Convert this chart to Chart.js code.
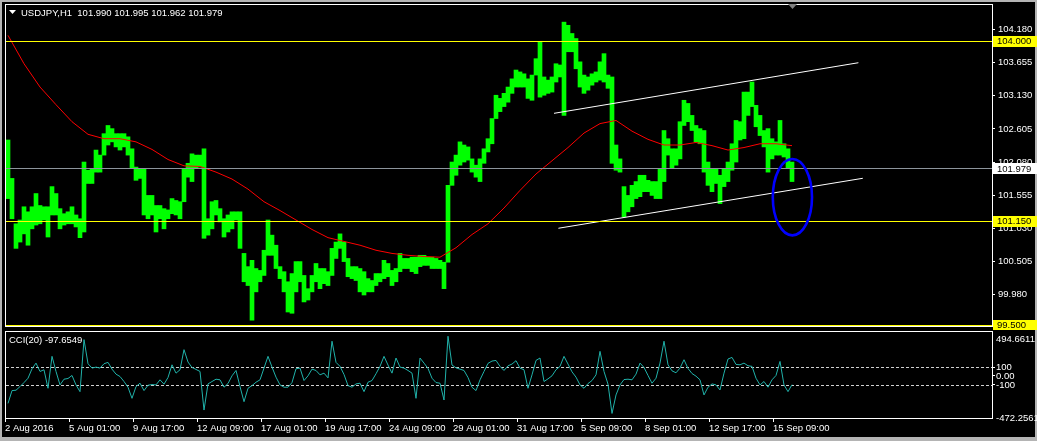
<!DOCTYPE html>
<html>
<head>
<meta charset="utf-8">
<title>USDJPY,H1</title>
<script src="https://cdn.jsdelivr.net/npm/chart.js@4"></script>
<style>
  html, body { margin: 0; padding: 0; }
  body { width: 1037px; height: 441px; background: #b4b4b4; position: relative; overflow: hidden; }
  #frame { position: absolute; left: 2px; top: 2px; width: 1033px; height: 435px; background: #000; }
  canvas { position: absolute; left: 0; }
  #main { top: 0; }
  #cci { top: 330px; }
</style>
</head>
<body>
<div id="frame"></div>
<canvas id="main" width="1037" height="330"></canvas>
<canvas id="cci" width="1037" height="111"></canvas>
<script>
// USDJPY H1, one entry per 4 hourly bars (high / low of the group)
const highs = [
  102.43, 101.82, 101.10, 101.16, 101.37, 101.29, 101.37, 101.58, 101.39, 101.37,
  101.37, 101.69, 101.58, 101.34, 101.26, 101.29, 101.37, 101.24, 101.18, 102.08,
  101.95, 101.98, 102.27, 102.19, 102.53, 102.66, 102.61, 102.53, 102.53, 102.53,
  102.48, 102.29, 102.00, 101.98, 101.98, 101.55, 101.55, 101.39, 101.39, 101.34,
  101.32, 101.50, 101.47, 101.45, 101.98, 102.06, 102.21, 102.19, 102.19, 102.29,
  101.18, 101.45, 101.47, 101.34, 101.18, 101.24, 101.29, 101.29, 101.29, 100.63,
  100.42, 100.52, 100.39, 100.36, 100.68, 101.16, 100.92, 100.76, 100.42, 100.34,
  100.18, 100.31, 100.50, 100.50, 100.28, 100.07, 100.28, 100.47, 100.39, 100.39,
  100.34, 100.71, 100.81, 100.94, 100.81, 100.55, 100.42, 100.42, 100.39, 100.34,
  100.23, 100.20, 100.31, 100.31, 100.52, 100.47, 100.36, 100.39, 100.63, 100.55,
  100.55, 100.57, 100.57, 100.60, 100.60, 100.57, 100.57, 100.55, 100.52, 100.49,
  101.71, 102.08, 102.19, 102.40, 102.35, 102.32, 102.13, 102.03, 102.13, 102.29,
  102.45, 102.77, 103.14, 103.09, 103.17, 103.27, 103.40, 103.54, 103.51, 103.48,
  103.40, 103.46, 103.72, 103.99, 103.43, 103.38, 103.43, 103.64, 103.62, 104.30,
  104.25, 104.12, 104.04, 103.67, 103.46, 103.43, 103.48, 103.51, 103.67, 103.80,
  103.46, 103.43, 102.35, 102.13, 101.69, 101.55, 101.71, 101.77, 101.87, 101.87,
  101.79, 101.77, 101.77, 101.98, 102.58, 102.45, 102.29, 102.29, 102.72, 103.06,
  103.01, 102.82, 102.66, 102.61, 102.58, 102.08, 101.98, 101.98, 101.87, 101.98,
  102.08, 102.37, 102.74, 102.72, 103.19, 103.19, 103.35, 102.98, 102.82, 102.58,
  102.61, 102.45, 102.40, 102.74, 102.37, 102.29, 102.08
];
const lows = [
  101.50, 101.18, 100.71, 100.81, 100.94, 100.76, 101.02, 101.08, 101.10, 101.16,
  100.89, 101.24, 101.24, 101.02, 101.08, 101.10, 101.10, 101.05, 100.88, 100.97,
  101.74, 101.74, 101.92, 101.92, 102.19, 102.35, 102.40, 102.32, 102.27, 102.32,
  102.19, 101.98, 101.79, 101.82, 101.24, 101.18, 101.24, 100.97, 101.18, 101.02,
  101.18, 101.26, 101.24, 101.18, 101.45, 101.84, 101.77, 101.98, 102.00, 100.87,
  100.92, 101.02, 101.24, 101.13, 100.89, 100.97, 101.02, 101.16, 100.71, 100.18,
  100.12, 99.57, 100.02, 100.18, 100.28, 100.60, 100.60, 100.39, 100.23, 100.02,
  99.70, 99.68, 100.02, 100.18, 99.86, 99.89, 100.02, 100.18, 100.07, 100.15,
  100.12, 100.28, 100.55, 100.71, 100.50, 100.26, 100.23, 100.20, 100.02, 99.97,
  100.02, 100.02, 100.12, 100.18, 100.23, 100.26, 100.12, 100.18, 100.34, 100.39,
  100.39, 100.34, 100.31, 100.42, 100.44, 100.44, 100.39, 100.39, 100.39, 100.07,
  100.49, 101.71, 101.87, 102.03, 102.08, 102.11, 101.92, 101.84, 101.77, 102.06,
  102.24, 102.37, 102.77, 102.88, 102.96, 103.03, 103.17, 103.27, 103.27, 103.27,
  103.09, 103.06, 103.46, 103.11, 103.14, 103.17, 103.19, 103.35, 103.43, 102.82,
  103.83, 103.83, 103.56, 103.27, 103.17, 103.22, 103.30, 103.35, 103.38, 103.35,
  103.25, 102.06, 101.95, 101.92, 101.21, 101.29, 101.37, 101.50, 101.53, 101.61,
  101.61, 101.55, 101.50, 101.50, 101.77, 102.19, 101.98, 102.03, 102.13, 102.66,
  102.72, 102.58, 102.40, 102.37, 101.92, 101.71, 101.61, 101.74, 101.42, 101.69,
  101.77, 101.95, 102.08, 102.43, 102.45, 102.82, 102.96, 102.64, 102.50, 102.32,
  101.92, 102.13, 102.19, 102.19, 102.16, 101.98, 101.77
];

// red moving average, read every 4th group
const maStep = 4;
const maValues = [
  104.09, 103.64, 103.27, 102.99, 102.72, 102.52, 102.45, 102.45, 102.40, 102.28,
  102.12, 102.02, 102.01, 101.92, 101.81, 101.65, 101.45, 101.31, 101.16, 101.01,
  100.88, 100.82, 100.76, 100.68, 100.63, 100.60, 100.58, 100.57, 100.72, 100.93,
  101.10, 101.35, 101.63, 101.89, 102.10, 102.31, 102.54, 102.69, 102.74, 102.57,
  102.44, 102.35, 102.35, 102.39, 102.34, 102.27, 102.31, 102.37, 102.37, 102.34
];

// CCI(20), one value per group
const cciValues = [
  -308, -164, -160, -119, -74, -25, 81, 145, 51, 70,
  -138, 221, 51, -100, -36, -28, 6, -100, -176, 409,
  138, 89, 100, 89, 138, 153, 77, 21, -6, -62,
  -126, -251, -119, -81, -164, -104, -96, -100, -43, -92,
  -17, 126, 32, 70, 296, 157, 96, 74, 51, -383,
  -89, -62, -36, -43, -126, -85, 2, 62, -119, -289,
  -138, -108, -70, -43, 89, 221, 100, -13, -100, -126,
  -126, -74, 81, 89, -51, 2, 77, 62, 13, 32,
  -21, 391, 153, 108, 17, -108, -126, -89, -81, -176,
  -70, -51, 25, 108, 221, 123, 32, 202, 100, 89,
  62, 32, -251, 202, 145, 85, -25, -74, -81, -270,
  447, 123, 92, 77, 62, -17, -126, -164, -43, 51,
  142, 168, 175, 108, 62, 115, 134, 172, 89, 70,
  -138, 13, 175, 202, -62, -32, 2, 70, 108, 221,
  134, 47, -13, -100, -138, -85, -51, 13, 277, 51,
  -92, -421, -213, -100, -40, -36, -43, 21, 145, 96,
  6, -81, -25, 145, 391, 126, 58, 36, 89, 183,
  85, 28, -2, -43, -213, -126, -89, -100, -157, 32,
  191, 209, 130, 126, 145, 115, 108, -25, -100, -62,
  -126, -43, 6, 164, -100, -176, -97.6549
];

const timeLabels = ['2 Aug 2016', '5 Aug 01:00', '9 Aug 17:00', '12 Aug 09:00', '17 Aug 01:00',
  '19 Aug 17:00', '24 Aug 09:00', '29 Aug 01:00', '31 Aug 17:00', '5 Sep 09:00',
  '8 Sep 01:00', '12 Sep 17:00', '15 Sep 09:00'];
const groupsPerLabel = 16;
const priceTicks = [104.180, 103.655, 103.130, 102.605, 102.080, 101.555, 101.030, 100.505, 99.980, 99.455];
const levelPrices = [104.000, 101.150, 99.500];
const bidPrice = 101.979;
const cciTickValues = [494.6611, 100, 0, -100, -472.2561];
const cciTickText = ['494.6611', '100', '0.00', '-100', '-472.2561'];
const cciLevels = [100, -100];

// drawn objects: channel lines and the ellipse (group index, price)
const upperChannel = [[136.5, 102.853], [212.6, 103.656]];
const lowerChannel = [[137.6, 101.029], [213.7, 101.822]];
const ellipseObj = { t: 196.1, p: 101.522, dt: 4.9, dp: 0.606 };

const FONT = 'Liberation Sans';
const font = { family: FONT, size: 9.5 };
const xMin = -0.5, xMax = 246;

const mainObjects = {
  id: 'mainObjects',
  afterDatasetsDraw(chart) {
    const { ctx, chartArea: a, scales: { x, y } } = chart;
    ctx.save();
    ctx.lineWidth = 1;
    const hline = (v, color) => {
      const py = Math.round(y.getPixelForValue(v)) + 0.5;
      ctx.strokeStyle = color;
      ctx.beginPath();
      ctx.moveTo(a.left, py);
      ctx.lineTo(a.right, py);
      ctx.stroke();
    };
    hline(bidPrice, '#8c949c');
    levelPrices.forEach(v => hline(v, '#ffff00'));

    // ellipse
    const cx = x.getPixelForValue(ellipseObj.t);
    const cy = y.getPixelForValue(ellipseObj.p);
    const rx = x.getPixelForValue(ellipseObj.t + ellipseObj.dt) - cx;
    const ry = cy - y.getPixelForValue(ellipseObj.p + ellipseObj.dp);
    ctx.strokeStyle = '#0000ff';
    ctx.lineWidth = 2.6;
    ctx.beginPath();
    ctx.ellipse(cx, cy, rx, ry, 0, 0, Math.PI * 2);
    ctx.stroke();
    ctx.restore();
  },
  afterDraw(chart) {
    const { ctx, scales: { x, y } } = chart;
    ctx.save();
    ctx.strokeStyle = '#ffffff';
    ctx.lineWidth = 1;
    ctx.strokeRect(5.5, 4.5, 987, 322);

    // title
    ctx.fillStyle = '#ffffff';
    ctx.beginPath();
    ctx.moveTo(9, 10); ctx.lineTo(16, 10); ctx.lineTo(12.5, 14); ctx.closePath();
    ctx.fill();
    ctx.font = `${font.size}px "${FONT}"`;
    ctx.textBaseline = 'middle';
    ctx.fillText('USDJPY,H1  101.990 101.995 101.962 101.979', 21, 13);

    // shift marker
    const mx = x.getPixelForValue(highs.length - 1);
    ctx.fillStyle = '#808080';
    ctx.beginPath();
    ctx.moveTo(mx - 4, 4); ctx.lineTo(mx + 5, 4); ctx.lineTo(mx + 0.5, 9); ctx.closePath();
    ctx.fill();

    // price boxes on the scale
    const box = (v, bg) => {
      const py = y.getPixelForValue(v);
      ctx.fillStyle = bg;
      ctx.fillRect(993, Math.round(py) - 5, 44, 11);
      ctx.fillStyle = '#000000';
      ctx.fillText(v.toFixed(3), 997, py + 0.5);
    };
    box(bidPrice, '#ffffff');
    levelPrices.forEach(v => box(v, '#ffff00'));
    ctx.restore();
  }
};

new Chart(document.getElementById('main'), {
  type: 'bar',
  data: {
    datasets: [
      { type: 'line', data: upperChannel.map(p => ({ x: p[0], y: p[1] })), borderColor: '#ffffff', borderWidth: 1, pointRadius: 0, order: 1 },
      { type: 'line', data: lowerChannel.map(p => ({ x: p[0], y: p[1] })), borderColor: '#ffffff', borderWidth: 1, pointRadius: 0, order: 1 },
      { type: 'line', data: maValues.map((v, k) => ({ x: k * maStep, y: v })), borderColor: '#ff0000', borderWidth: 1, pointRadius: 0, order: 2 },
      { data: highs.map((h, i) => ({ x: i, y: [lows[i], h] })), backgroundColor: '#00ff00', borderWidth: 0, barThickness: 4, order: 3 }
    ]
  },
  options: {
    animation: false,
    responsive: false,
    devicePixelRatio: 1,
    events: [],
    layout: { padding: { left: 6, top: 5, right: 0, bottom: 4 } },
    plugins: { legend: { display: false }, tooltip: { enabled: false } },
    scales: {
      x: { type: 'linear', min: xMin, max: xMax, offset: false, display: false, grid: { offset: false } },
      y: {
        position: 'right',
        min: 99.478,
        max: 104.572,
        beginAtZero: false,
        afterBuildTicks: s => { s.ticks = priceTicks.map(v => ({ value: v })); },
        afterFit: s => { s.width = 45; s.paddingTop = 0; s.paddingBottom = 0; },
        ticks: { color: '#ffffff', font: font, padding: 3, autoSkip: false, callback: v => v.toFixed(3) },
        grid: { drawOnChartArea: false, color: '#ffffff', tickLength: 3 },
        border: { color: '#ffffff' }
      }
    }
  },
  plugins: [mainObjects]
});

const cciObjects = {
  id: 'cciObjects',
  beforeDatasetsDraw(chart) {
    const { ctx, chartArea: a, scales: { y } } = chart;
    ctx.save();
    ctx.strokeStyle = '#d0d0d0';
    ctx.lineWidth = 1;
    ctx.setLineDash([3, 2]);
    cciLevels.forEach(v => {
      const py = Math.round(y.getPixelForValue(v)) + 0.5;
      ctx.beginPath();
      ctx.moveTo(a.left, py);
      ctx.lineTo(a.right, py);
      ctx.stroke();
    });
    ctx.restore();
  },
  afterDraw(chart) {
    const { ctx, chartArea: a, scales: { y } } = chart;
    ctx.save();
    ctx.strokeStyle = '#ffffff';
    ctx.lineWidth = 1;
    ctx.strokeRect(5.5, 1.5, 987, 87);
    ctx.fillStyle = '#ffffff';
    ctx.font = `${font.size}px "${FONT}"`;
    ctx.textBaseline = 'middle';
    ctx.fillText('CCI(20) -97.6549', 9, 10.5);
    cciTickValues.forEach((v, i) => {
      let py = y.getPixelForValue(v);
      py = Math.min(Math.max(py, a.top + 7), a.bottom + 0.5);
      ctx.fillText(cciTickText[i], 996, py);
    });
    ctx.restore();
  }
};

new Chart(document.getElementById('cci'), {
  type: 'line',
  data: {
    datasets: [
      { data: cciValues.map((v, i) => ({ x: i, y: v })), borderColor: '#20b2aa', borderWidth: 1, pointRadius: 0 }
    ]
  },
  options: {
    animation: false,
    responsive: false,
    devicePixelRatio: 1,
    events: [],
    layout: { padding: { left: 6, top: 2, right: 0, bottom: 0 } },
    plugins: { legend: { display: false }, tooltip: { enabled: false } },
    scales: {
      x: {
        type: 'linear', min: xMin, max: xMax, offset: false,
        afterBuildTicks: s => { s.ticks = timeLabels.map((t, k) => ({ value: k * groupsPerLabel - 0.75 })); },
        afterFit: s => { s.height = 23; s.paddingLeft = 0; s.paddingRight = 0; },
        ticks: { color: '#ffffff', font: font, align: 'start', maxRotation: 0, minRotation: 0, autoSkip: false, padding: 1,
                 callback: (v, i) => timeLabels[i] },
        grid: { drawOnChartArea: false, color: '#ffffff', tickLength: 4, offset: false },
        border: { color: '#ffffff' }
      },
      y: {
        position: 'right',
        min: -472.2561,
        max: 494.6611,
        afterBuildTicks: s => { s.ticks = [100, 0, -100].map(v => ({ value: v })); },
        afterFit: s => { s.width = 45; s.paddingTop = 0; s.paddingBottom = 0; },
        ticks: { display: false },
        grid: { drawOnChartArea: false, color: '#ffffff', tickLength: 3 },
        border: { color: '#ffffff' }
      }
    }
  },
  plugins: [cciObjects]
});
</script>
</body>
</html>
